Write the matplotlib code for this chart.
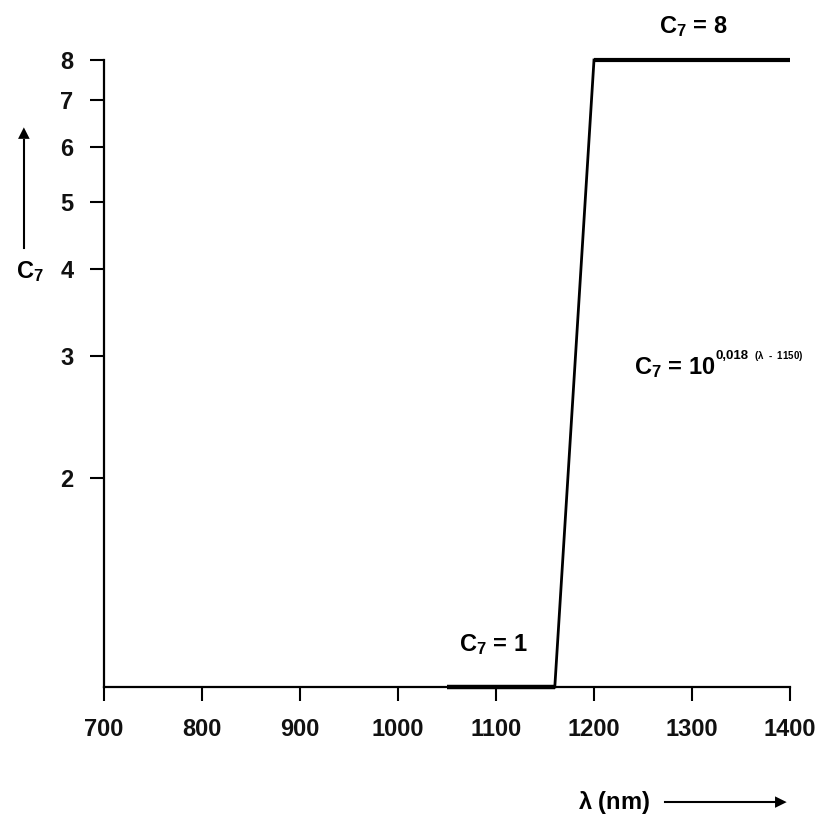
import matplotlib.pyplot as plt
from matplotlib.ticker import NullLocator

plt.rcParams['font.family'] = ['Liberation Sans', 'DejaVu Sans']
plt.rcParams['font.weight'] = 'bold'
plt.rcParams['mathtext.fontset'] = 'custom'
plt.rcParams['mathtext.rm'] = 'Liberation Sans:bold'
plt.rcParams['mathtext.it'] = 'Liberation Sans:bold'
plt.rcParams['mathtext.bf'] = 'Liberation Sans:bold'

# data
lam_low = [1050, 1160]
c7_low = [1, 1]
lam_rise = [1160, 1200]
c7_rise = [1, 8]
lam_high = [1200, 1400]
c7_high = [8, 8]

x_ticks = [700, 800, 900, 1000, 1100, 1200, 1300, 1400]
y_ticks = [2, 3, 4, 5, 6, 7, 8]

fig = plt.figure(figsize=(8.23, 8.18), dpi=100)
ax = fig.add_axes([104 / 823, 1 - 687 / 818, (790 - 104) / 823, (687 - 60) / 818])

ax.plot(lam_low, c7_low, color='black', linewidth=3.2, clip_on=False, solid_capstyle='butt')
ax.plot(lam_rise, c7_rise, color='black', linewidth=2.0, clip_on=False)
ax.plot(lam_high, c7_high, color='black', linewidth=3.0, clip_on=False, solid_capstyle='butt')

ax.set_yscale('log')
ax.set_xlim(700, 1400)
ax.set_ylim(1, 8)
ax.set_xticks(x_ticks)
ax.set_xticklabels([str(t) for t in x_ticks], fontsize=17, color='#111111')
ax.set_yticks(y_ticks)
ax.set_yticklabels([str(t) for t in y_ticks], fontsize=17, color='#111111')
ax.yaxis.set_minor_locator(NullLocator())
ax.tick_params(axis='x', length=10, width=1.5, pad=12)
ax.tick_params(axis='y', length=10, width=1.5, pad=12)

for s in ['top', 'right']:
    ax.spines[s].set_visible(False)
for s in ['left', 'bottom']:
    ax.spines[s].set_linewidth(1.6)

# annotations
fig.text(693 / 823, 1 - 27 / 818, r'C$_7$ = 8', fontsize=17, ha='center', va='center')
fig.text(493 / 823, 1 - 645 / 818, r'C$_7$ = 1', fontsize=17, ha='center', va='center')
fig.text(634 / 823, 1 - 368 / 818, r'C$_7$ = 10', fontsize=17, ha='left', va='center')
fig.text(716 / 823, 1 - 356 / 818, '0,018', fontsize=9.5, ha='left', va='center')
fig.text(754 / 823, 1 - 356 / 818, r'($\lambda$  -  1150)', fontsize=7, ha='left', va='center')

# y axis label with arrow
fig.text(30 / 823, 1 - 272 / 818, r'C$_7$', fontsize=17, ha='center', va='center')
fig.add_artist(plt.Line2D([24 / 823, 24 / 823], [1 - 248 / 818, 1 - 140 / 818], color='black', linewidth=1.5))
fig.text(24 / 823, 1 - 133 / 818, '▲', fontsize=11, ha='center', va='center', family='DejaVu Sans')

# x axis label with arrow
fig.text(578 / 823, 1 - 802 / 818, r'$\lambda$ (nm)', fontsize=17, ha='left', va='center')
fig.add_artist(plt.Line2D([665 / 823, 775 / 823], [1 - 802 / 818, 1 - 802 / 818], color='black', linewidth=1.5))
fig.text(781 / 823, 1 - 802 / 818, '▶', fontsize=11, ha='center', va='center', family='DejaVu Sans')

fig.savefig('out.png', dpi=100)
